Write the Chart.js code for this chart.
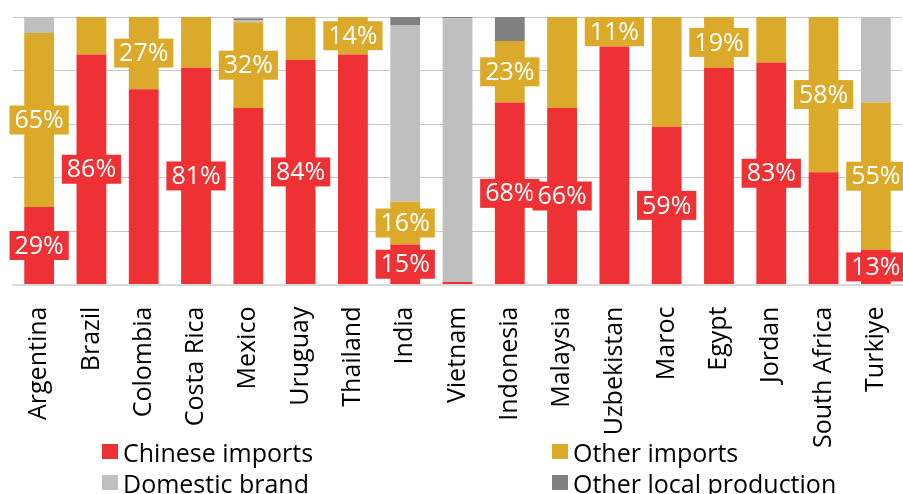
<!DOCTYPE html>
<html>
<head>
<meta charset="utf-8">
<script src="https://cdn.jsdelivr.net/npm/chart.js@4.4.1/dist/chart.umd.min.js"></script>
<style>
  html, body { margin: 0; padding: 0; background: #fff; }
  #wrap { position: relative; width: 903px; height: 494px; }
  #legend {
    position: absolute; left: 102px; top: 436px; width: 800px;
    display: grid; grid-template-columns: 450px 350px; row-gap: 0px;
    font-family: 'Open Sans', sans-serif; font-size: 25px; color: #000;
  }
  .item { display: flex; align-items: center; height: 31px; white-space: nowrap; }
  .box { width: 16px; height: 15px; margin-right: 5px; }
</style>
</head>
<body>
<div id="wrap">
  <canvas id="chart" width="903" height="494"></canvas>
  <div id="legend"></div>
</div>
<script>
const countries = ['Argentina', 'Brazil', 'Colombia', 'Costa Rica', 'Mexico', 'Uruguay', 'Thailand', 'India',
  'Vietnam', 'Indonesia', 'Malaysia', 'Uzbekistan', 'Maroc', 'Egypt', 'Jordan', 'South Africa', 'Turkiye'];

const chineseImports = [29, 86, 73, 81, 66, 84, 86, 15, 1, 68, 66, 89, 59, 81, 83, 42, 13];
const otherImports   = [65, 14, 27, 19, 32, 16, 14, 16, 0, 23, 34, 11, 41, 19, 17, 58, 55];
const domesticBrand  = [6, 0, 0, 0, 0.7, 0, 0, 66, 98.5, 0, 0, 0, 0, 0, 0, 0, 32];
const otherLocal     = [0, 0, 0, 0, 0.8, 0, 0, 3, 0.5, 9, 0, 0, 0, 0, 0, 0, 0];

// labels printed on the bars (null = no label)
const chineseLabels = [29, 86, null, 81, null, 84, null, 15, null, 68, 66, null, 59, null, 83, null, 13];
const otherLabels   = [65, null, 27, null, 32, null, 14, 16, null, 23, null, 11, null, 19, null, 58, 55];

const RED = '#ee3134';
const GOLD = '#dcaa2a';
const LIGHT = '#bfbfbf';
const DARK = '#808080';
const FONT = "'Open Sans', sans-serif";

const barLabels = {
  id: 'barLabels',
  afterDatasetsDraw(chart) {
    const ctx = chart.ctx;
    ctx.save();
    ctx.font = '25px ' + FONT;
    ctx.textAlign = 'center';
    ctx.textBaseline = 'middle';
    chart.data.datasets.forEach((ds, di) => {
      if (!ds.valueLabels) return;
      const meta = chart.getDatasetMeta(di);
      meta.data.forEach((bar, i) => {
        const v = ds.valueLabels[i];
        if (v === null || v === undefined) return;
        const text = v + '%';
        const w = ctx.measureText(text).width + 10;
        const h = 29;
        const cy = (bar.y + bar.base) / 2;
        ctx.fillStyle = ds.backgroundColor;
        ctx.fillRect(bar.x - w / 2, cy - h / 2, w, h);
        ctx.fillStyle = '#fff';
        ctx.fillText(text, bar.x, cy + 1);
      });
    });
    ctx.restore();
  }
};

const chart = new Chart(document.getElementById('chart'), {
  type: 'bar',
  data: {
    labels: countries,
    datasets: [
      { label: 'Chinese imports', data: chineseImports, backgroundColor: RED, valueLabels: chineseLabels },
      { label: 'Other imports', data: otherImports, backgroundColor: GOLD, valueLabels: otherLabels },
      { label: 'Domestic brand', data: domesticBrand, backgroundColor: LIGHT },
      { label: 'Other local production', data: otherLocal, backgroundColor: DARK }
    ]
  },
  options: {
    responsive: false,
    animation: false,
    events: [],
    layout: { padding: { top: 17, left: 13, right: 1, bottom: 32 } },
    datasets: { bar: { categoryPercentage: 1, barPercentage: 0.57 } },
    scales: {
      x: {
        stacked: true,
        grid: { display: false },
        border: { color: '#d9d9d9', width: 2 },
        ticks: {
          color: '#000',
          font: { family: FONT, size: 25 },
          minRotation: 90,
          maxRotation: 90,
          autoSkip: false,
          padding: 14
        },
        afterFit(scale) {
          scale.paddingLeft = 0;
          scale.paddingRight = 0;
        }
      },
      y: {
        stacked: true,
        min: 0,
        max: 100,
        ticks: { display: false, stepSize: 20 },
        border: { display: false },
        grid: { color: '#c8c8c8', borderDash: [2, 2], drawTicks: false, lineWidth: 1 }
      }
    },
    plugins: {
      legend: { display: false },
      tooltip: { enabled: false }
    }
  },
  plugins: [barLabels]
});

// 2x2 legend under the chart
const legendEl = document.getElementById('legend');
chart.data.datasets.forEach(ds => {
  const item = document.createElement('div');
  item.className = 'item';
  item.innerHTML = `<span class="box" style="background:${ds.backgroundColor}"></span><span>${ds.label}</span>`;
  legendEl.appendChild(item);
});
</script>
</body>
</html>
